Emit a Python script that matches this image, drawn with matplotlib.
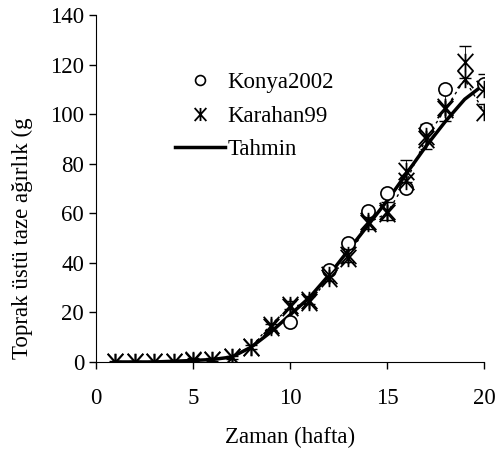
import numpy as np
import matplotlib.pyplot as plt
from matplotlib.path import Path

plt.rcParams['font.family'] = ['Liberation Serif', 'DejaVu Serif']

# data
hafta = [1, 2, 3, 4, 5, 6, 7, 8, 9, 10, 11, 12, 13, 14, 15, 16, 17, 18, 19, 20]
karahan99 = [0, 0, 0, 0, 0.5, 1, 2, 6, 15, 22, 24, 34, 42, 56, 60, 73, 90, 102, 114, 101]
karahan99_b = [0, 0, 0, 0, 1, 1, 2, 6, 14, 23, 25, 35, 43, 57, 61, 77, 91, 103, 121, 110]
konya_hafta = [10, 12, 13, 14, 15, 16, 17, 18, 20]
konya2002 = [16, 37, 48, 61, 68, 70, 94, 110, 112]
tahmin = [0, 0, 0, 0.3, 0.6, 1, 2, 6, 12, 19, 26, 35, 45, 55, 65, 76, 87, 97, 106, 112]

# excel style asterisk: X with a vertical bar
star = Path([(-0.9, -1), (0.9, 1), (-0.9, 1), (0.9, -1), (0, -1), (0, 1)],
            [Path.MOVETO, Path.LINETO, Path.MOVETO, Path.LINETO,
             Path.MOVETO, Path.LINETO])

fs = 16.5
fig = plt.figure(figsize=(4.96, 4.5), dpi=100)
ax = fig.add_axes([0.1935, 0.1956, 0.7825, 0.7711])

# dashed error-bar like traces
ax.plot(hafta, karahan99, color='black', lw=1, ls=(0, (2, 3)), zorder=1)
ax.errorbar(hafta, karahan99_b, yerr=np.array(karahan99_b) * 0.05 + 0.5,
            fmt='none', ecolor='black', elinewidth=0.6, capsize=4,
            ls=':', zorder=1)

ax.plot(hafta, tahmin, color='black', lw=2.5, zorder=2, label='Tahmin')
ax.plot(konya_hafta, konya2002, ls='none', marker='o', ms=9.5, mfc='white',
        mec='black', mew=1.2, zorder=3, label='Konya2002')
ax.plot(hafta, karahan99, ls='none', marker=star, ms=12.5,
        mec='black', mew=1.3, zorder=4, label='Karahan99')
ax.plot(hafta, karahan99_b, ls='none', marker=star, ms=12.5,
        mec='black', mew=1.3, zorder=4)

ax.set_xlim(0, 20)
ax.set_ylim(0, 140)
ax.set_xticks([0, 5, 10, 15, 20])
ax.set_yticks(np.arange(0, 141, 20))
ax.spines['top'].set_visible(False)
ax.spines['right'].set_visible(False)
ax.tick_params(labelsize=fs, length=5, direction='out', width=1)
ax.tick_params(axis='x', pad=14)

h, l = ax.get_legend_handles_labels()
order = [1, 2, 0]
leg = ax.legend([h[i] for i in order], [l[i] for i in order], frameon=False,
                fontsize=fs, loc='upper left', bbox_to_anchor=(0.15, 0.895),
                handlelength=2.2, handletextpad=0.1, labelspacing=0.55,
                markerscale=0.75)

fig.text(0.045, 0.47, 'Toprak üstü taze ağırlık (g', rotation=90,
         ha='center', va='center', fontsize=fs)
fig.text(0.585, 0.028, 'Zaman (hafta)', ha='center', va='center', fontsize=fs)

fig.savefig('out.png', dpi=100)
